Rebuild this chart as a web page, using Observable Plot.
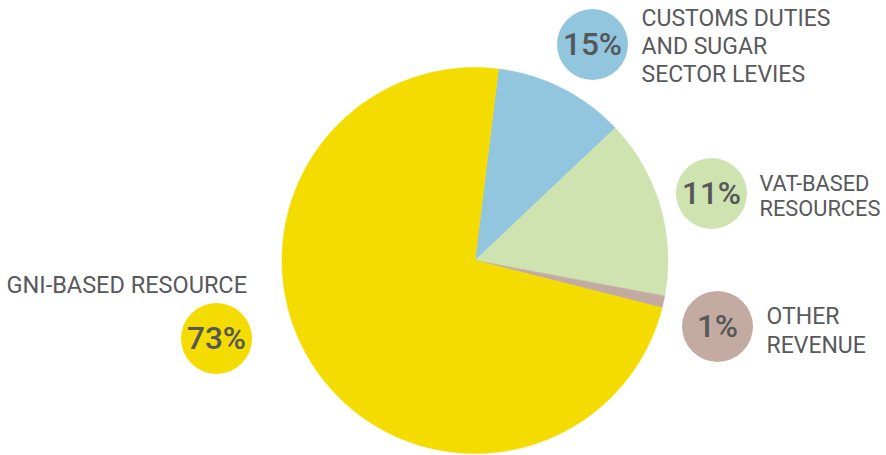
<!DOCTYPE html>
<html>
<head>
<meta charset="utf-8">
<script src="https://cdn.jsdelivr.net/npm/d3@7"></script>
<script src="https://cdn.jsdelivr.net/npm/@observablehq/plot@0.6"></script>
<style>
  html, body { margin: 0; padding: 0; background: #fff; }
  #chart svg { display: block; }
</style>
</head>
<body>
<div id="chart"></div>
<script>
// ---- data ----
const categories = ["CUSTOMS DUTIES\nAND SUGAR\nSECTOR LEVIES", "VAT-BASED\nRESOURCES", "OTHER\nREVENUE", "GNI-BASED RESOURCE"];
const shares = [11, 15, 1, 73];              // slice sizes as drawn (%)
const percentLabels = ["15%", "11%", "1%", "73%"]; // labels as printed
const colors = ["#92c5de", "#cee3b0", "#c4aba1", "#f4dc00"];

// ---- layout (pixels) ----
const W = 886, H = 455;
const pie = {cx: 474.5, cy: 260, r: 193, startDeg: 7};
const bubbles = [ // circle centre and text block per category
  {cx: 592, cy: 44, tx: 641, ty: 44.5, lh: 1.22, fs: 23},
  {cx: 711, cy: 193, tx: 759, ty: 195, lh: 1.12, fs: 21.8},
  {cx: 717, cy: 326, tx: 766, ty: 329, lh: 1.22, fs: 23},
  {cx: 216, cy: 338, tx: 6, ty: 283, lh: 1.2, fs: 23.5}
];

// ---- pie geometry from the data ----
const arcs = d3.pie().sort(null).value(d => d)
  .startAngle(pie.startDeg * Math.PI / 180)
  .endAngle(pie.startDeg * Math.PI / 180 + 2 * Math.PI)(shares);

const polys = [];
arcs.forEach((a, i) => {
  const cat = categories[i];
  polys.push({cat, x: pie.cx, y: pie.cy});
  const n = Math.max(4, Math.ceil((a.endAngle - a.startAngle) / (Math.PI / 360)));
  for (let k = 0; k <= n; k++) {
    const t = a.startAngle + (a.endAngle - a.startAngle) * k / n;
    polys.push({cat, x: pie.cx + pie.r * Math.sin(t), y: pie.cy - pie.r * Math.cos(t)});
  }
  polys.push({cat, x: pie.cx, y: pie.cy});
});

const labelRows = categories.map((c, i) => ({cat: c, pct: percentLabels[i], ...bubbles[i]}));

const chart = Plot.plot({
  width: W, height: H,
  margin: 0,
  x: {domain: [0, W], range: [0, W], axis: null},
  y: {domain: [0, H], range: [0, H], axis: null},
  color: {domain: categories, range: colors},
  style: {background: "#fff"},
  marks: [
    Plot.line(polys, {x: "x", y: "y", z: "cat", fill: "cat", stroke: "cat", strokeWidth: 0.5, curve: "linear"}),
    Plot.dot(labelRows, {x: "cx", y: "cy", r: 35.5, fill: "cat", stroke: null}),
    Plot.text(labelRows, {x: "cx", y: "cy", text: "pct", fill: "#555759", fontSize: 31.5, fontWeight: 500,
      fontFamily: "Roboto", textAnchor: "middle", lineAnchor: "middle"}),
    ...labelRows.map(d => Plot.text([d], {x: "tx", y: "ty", text: "cat", fill: "#58595b", fontSize: d.fs,
      fontFamily: "Roboto", textAnchor: "start", lineAnchor: "middle", lineHeight: d.lh}))
  ]
});
document.getElementById("chart").appendChild(chart);
</script>
</body>
</html>
